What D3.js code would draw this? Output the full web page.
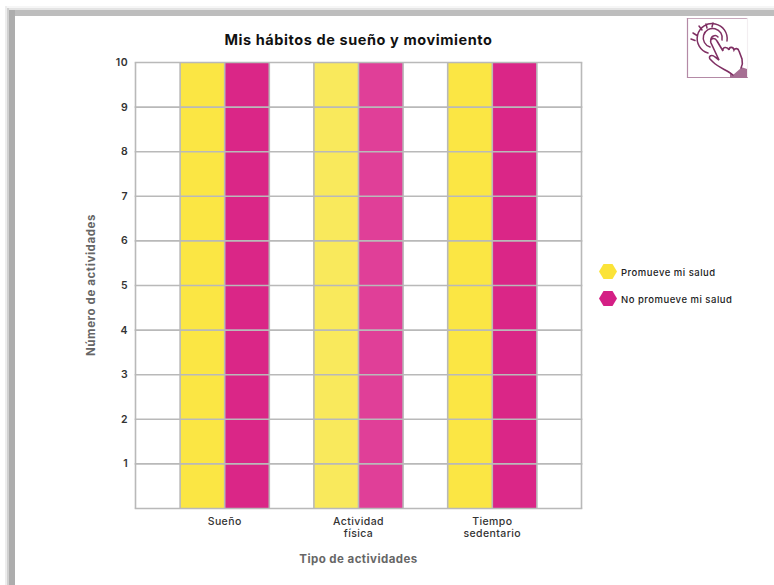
<!DOCTYPE html>
<html>
<head>
<meta charset="utf-8">
<script src="https://cdn.jsdelivr.net/npm/d3@7"></script>
<style>
    html, body { margin: 0; padding: 0; background: #fff; }
    svg { display: block; }
    text { font-family: Inter, "Open Sans", sans-serif; }
</style>
</head>
<body>
<div id="chart"></div>
<script>
const categories = [['Sueño'], ['Actividad', 'física'], ['Tiempo', 'sedentario']];
const seriesNames = ['Promueve mi salud', 'No promueve mi salud'];
const promueve = [10, 10, 10];
const noPromueve = [10, 10, 10];
const yTicks = [1, 2, 3, 4, 5, 6, 7, 8, 9, 10];

const width = 774, height = 585;
const plot = { left: 135.5, right: 581.5, top: 62.5, bottom: 508.5 };
const yellow = ['#fbe644', '#f9e95c', '#fbe644'];
const pink = ['#da2687', '#e03f98', '#da2687'];
const gridColor = '#b9b9b9';

const svg = d3.select('#chart').append('svg')
    .attr('width', width)
    .attr('height', height);

// Page frame (grey edge with soft shadow, top and left only)
const frameShades = [['#f6f6f6', 5, 6, 2], ['#e4e4e4', 7, 8, 2], ['#bdbdbd', 9, 10, 6]];
frameShades.forEach(([color, x, y, w]) => {
    svg.append('rect').attr('x', x).attr('y', y).attr('width', width - x).attr('height', w).attr('fill', color);
});
svg.append('rect').attr('x', 5).attr('y', 6).attr('width', 2).attr('height', height).attr('fill', '#ededed');
svg.append('rect').attr('x', 7).attr('y', 8).attr('width', 2).attr('height', height).attr('fill', '#d0d0d0');
svg.append('rect').attr('x', 9).attr('y', 10).attr('width', 6).attr('height', height).attr('fill', '#adadad');
svg.append('rect').attr('x', 15).attr('y', 16).attr('width', width - 15).attr('height', height - 16).attr('fill', '#fff');

const x0 = d3.scaleBand()
    .domain(d3.range(categories.length))
    .range([plot.left, plot.right])
    .padding(1 / 3);

const x1 = d3.scaleBand()
    .domain([0, 1])
    .range([0, x0.bandwidth()]);

const y = d3.scaleLinear()
    .domain([0, 10])
    .range([plot.bottom, plot.top]);

// Bars
[promueve, noPromueve].forEach((values, s) => {
    svg.append('g').selectAll('rect')
        .data(values)
        .join('rect')
        .attr('x', (d, i) => x0(i) + x1(s))
        .attr('y', d => y(d))
        .attr('width', x1.bandwidth())
        .attr('height', d => y(0) - y(d))
        .attr('fill', (d, i) => (s === 0 ? yellow : pink)[i]);
});

// Vertical lines at plot edges and bar edges
const vLines = [plot.left, plot.right];
categories.forEach((c, i) => {
    vLines.push(x0(i), x0(i) + x1(1), x0(i) + x0.bandwidth());
});
svg.append('g').selectAll('line')
    .data(vLines)
    .join('line')
    .attr('x1', d => d).attr('x2', d => d)
    .attr('y1', plot.top).attr('y2', plot.bottom)
    .attr('stroke', gridColor)
    .attr('stroke-width', 1.6);

// Horizontal grid
svg.append('g').selectAll('line')
    .data([0].concat(yTicks))
    .join('line')
    .attr('x1', plot.left - 0.8).attr('x2', plot.right + 0.8)
    .attr('y1', d => y(d)).attr('y2', d => y(d))
    .attr('stroke', gridColor)
    .attr('stroke-width', 1.6);

// Y axis labels
svg.append('g').selectAll('text')
    .data(yTicks)
    .join('text')
    .attr('x', 128)
    .attr('y', d => y(d) + 3.5)
    .attr('text-anchor', 'end')
    .attr('font-size', 10.5)
    .attr('font-weight', 600)
    .attr('letter-spacing', 0.4)
    .attr('fill', '#333')
    .text(d => d);

// X axis labels
categories.forEach((lines, i) => {
    const cx = x0(i) + x0.bandwidth() / 2;
    lines.forEach((line, j) => {
        svg.append('text')
            .attr('x', cx)
            .attr('y', 525 + j * 12)
            .attr('text-anchor', 'middle')
            .attr('font-size', 10.5)
            .attr('font-weight', 500)
            .attr('letter-spacing', 0.4)
            .attr('fill', '#333')
            .text(line);
    });
});

// Titles
svg.append('text')
    .attr('x', 358.5).attr('y', 45)
    .attr('text-anchor', 'middle')
    .attr('font-size', 14.5)
    .attr('font-weight', 700)
    .attr('letter-spacing', 0.58)
    .attr('fill', '#111')
    .text('Mis hábitos de sueño y movimiento');

svg.append('text')
    .attr('x', 358.5).attr('y', 563)
    .attr('text-anchor', 'middle')
    .attr('font-size', 11.5)
    .attr('font-weight', 700)
    .attr('letter-spacing', 0.45)
    .attr('fill', '#666')
    .text('Tipo de actividades');

svg.append('text')
    .attr('transform', 'translate(95,285) rotate(-90)')
    .attr('text-anchor', 'middle')
    .attr('font-size', 11.5)
    .attr('font-weight', 700)
    .attr('letter-spacing', 0.6)
    .attr('fill', '#666')
    .text('Número de actividades');

// Legend with hexagon markers
const hexagon = (cx, cy, r) => d3.range(6).map(k => {
    const a = k * Math.PI / 3;
    return [cx + r * Math.cos(a), cy + r * Math.sin(a) * 0.95].join(',');
}).join(' ');

seriesNames.forEach((name, i) => {
    const cy = 271.5 + i * 27;
    svg.append('polygon')
        .attr('points', hexagon(608, cy, 9))
        .attr('fill', i === 0 ? '#fbe338' : '#d41f85');
    svg.append('text')
        .attr('x', 621).attr('y', cy + 4)
        .attr('font-size', 9.5)
        .attr('font-weight', 500)
        .attr('letter-spacing', 0.5)
        .attr('fill', '#222')
        .text(name);
});

// Hand icon, top right
const icon = svg.append('g').attr('fill', 'none').attr('stroke', '#7f2f63').attr('stroke-linecap', 'round');
icon.append('rect')
    .attr('x', 687.5).attr('y', 18.5).attr('width', 60).attr('height', 59)
    .attr('stroke', 'none').attr('fill', '#fff');
[
    ['M687.5 18.5 H747.5', '#c9a9bd'],
    ['M747.5 18.5 V77.5', '#f3eef1'],
    ['M687.5 18.5 V77.5', '#b48aa6'],
    ['M687.5 77.5 H747.5', '#b48aa6']
].forEach(([d, color]) => {
    icon.append('path').attr('d', d).attr('stroke', color).attr('stroke-width', 1.2);
});
icon.append('path').attr('d', 'M730 78 L747 78 L747 69 L741 67 L730 72 Z').attr('fill', '#a66f93').attr('stroke', 'none');
icon.append('g').attr('stroke-width', 1.5).selectAll('path')
    .data([
        'M691 39 L695 40.5', 'M693 33 L697 35.5', 'M699 26 L702 30', 'M706 24 L707 28', 'M713 23 L712 27',
        'M708 53 A15 15 0 1 1 727 41',
        'M710 47 A9.5 9.5 0 1 1 722 40',
        'M711 40 A4 4 0 0 1 718 37'
    ])
    .join('path')
    .attr('d', d => d);
icon.append('path')
    .attr('stroke-width', 1.6)
    .attr('fill', '#fff')
    .attr('d', 'M733 75 C727 70 719 68 713 62 L710 59 C708 56 712 54 715 57 L719 60 L711 43 C709 38 715 37 717 41 L723 51 C722 47 727 46 729 50 C729 47 733 46 734 50 C735 48 738 48 739 51 L742 59 C743 63 742 66 741 68');
</script>
</body>
</html>
